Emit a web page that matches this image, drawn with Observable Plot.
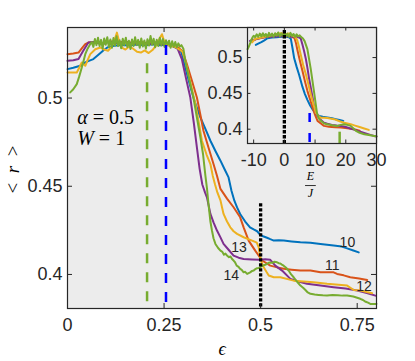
<!DOCTYPE html>
<html><head><meta charset="utf-8">
<script src="https://cdn.jsdelivr.net/npm/d3@7"></script>
<script src="https://cdn.jsdelivr.net/npm/@observablehq/plot@0.6"></script>
<style>
body{margin:0;background:#fff;}
#wrap{position:relative;width:415px;height:361px;}
#wrap svg{position:absolute;left:0;top:0;}
</style></head><body><div id="wrap"></div>
<script>
// ---------- data ----------
const sizes = [10, 11, 12, 13, 14];
const colors = ["#0072BD", "#D95319", "#7E2F8E", "#EDB120", "#77AC30"];
const xTicksMain = [0, 0.25, 0.5, 0.75];
const yTicksMain = [0.4, 0.45, 0.5];
const xTicksInset = [-10, 0, 10, 20, 30];
const yTicksInset = [0.4, 0.45, 0.5];

// main panel: r vs epsilon
const eps10 = [0,0.015,0.033,0.046,0.057,0.067,0.080,0.092,0.103,0.12,0.14,0.16,0.18,0.20,0.22,0.24,0.26,0.28,0.295,0.305,0.315,0.326,0.335,0.344,0.357,0.370,0.383,0.396,0.407,0.417,0.4245,0.432,0.439,0.447,0.460,0.4725,0.482,0.491,0.499,0.508,0.5166,0.525,0.534,0.547,0.560,0.580,0.603,0.629,0.655,0.689,0.710,0.724,0.740,0.754];
const r10 = [0.5164,0.5172,0.5183,0.5202,0.5212,0.5221,0.5245,0.5268,0.5287,0.5296,0.5301,0.5298,0.5303,0.5300,0.5305,0.5299,0.5302,0.5290,0.5260,0.5173,0.5090,0.5003,0.4945,0.4890,0.4825,0.4758,0.4700,0.4645,0.4595,0.4550,0.4475,0.4418,0.4380,0.4343,0.4300,0.4267,0.4255,0.4245,0.4225,0.4215,0.4208,0.4200,0.4192,0.4194,0.4192,0.4187,0.4182,0.4180,0.4173,0.4164,0.4158,0.4148,0.4136,0.4125];

const eps11 = [0,0.015,0.0285,0.038,0.0459,0.055,0.07,0.09,0.11,0.13,0.15,0.17,0.19,0.21,0.23,0.25,0.27,0.285,0.298,0.309,0.322,0.335,0.344,0.352,0.365,0.378,0.387,0.396,0.413,0.430,0.447,0.456,0.469,0.486,0.504,0.525,0.543,0.560,0.580,0.603,0.629,0.655,0.689,0.698,0.715,0.732,0.755,0.776];
const r11 = [0.5249,0.5253,0.5258,0.5285,0.5306,0.5315,0.5318,0.5310,0.5322,0.5315,0.5320,0.5312,0.5318,0.5310,0.5316,0.5308,0.5300,0.5290,0.5265,0.5193,0.5100,0.5003,0.4905,0.4815,0.4720,0.4626,0.4560,0.4485,0.4430,0.4381,0.4324,0.4267,0.4192,0.4135,0.4079,0.4050,0.4040,0.4032,0.4027,0.4022,0.4022,0.4012,0.4012,0.4003,0.3995,0.3984,0.3977,0.3969];

const eps12 = [0,0.015,0.0285,0.040,0.054,0.07,0.09,0.11,0.13,0.15,0.17,0.19,0.21,0.23,0.25,0.27,0.285,0.296,0.307,0.318,0.327,0.335,0.342,0.349,0.356,0.361,0.370,0.378,0.387,0.396,0.404,0.417,0.430,0.443,0.456,0.478,0.499,0.512,0.525,0.538,0.5555,0.577,0.598,0.620,0.655,0.689,0.720,0.750,0.775,0.797];
const r12 = [0.5211,0.5214,0.5221,0.5265,0.5315,0.5318,0.5305,0.5320,0.5310,0.5318,0.5308,0.5315,0.5305,0.5312,0.5302,0.5296,0.5280,0.5221,0.5110,0.5003,0.4860,0.4720,0.4600,0.4510,0.4465,0.4437,0.4343,0.4295,0.4249,0.4210,0.4173,0.4140,0.4107,0.4095,0.4088,0.4085,0.4083,0.4086,0.4083,0.4050,0.4022,0.3975,0.3960,0.3947,0.3938,0.3928,0.3920,0.3909,0.3895,0.3880];

const eps13 = [0,0.012,0.024,0.031,0.037,0.046,0.052,0.059,0.072,0.085,0.095,0.105,0.114,0.122,0.128,0.134,0.142,0.150,0.160,0.170,0.180,0.190,0.200,0.210,0.220,0.230,0.238,0.2446,0.250,0.260,0.270,0.280,0.290,0.298,0.305,0.318,0.331,0.340,0.348,0.360,0.370,0.376,0.382,0.388,0.396,0.404,0.413,0.4215,0.430,0.439,0.456,0.478,0.490,0.495,0.499,0.504,0.508,0.515,0.521,0.534,0.551,0.5855,0.637,0.672,0.724,0.741,0.758,0.775,0.789];
const r13 = [0.5145,0.5145,0.5145,0.5175,0.5202,0.5183,0.5215,0.5249,0.5277,0.5287,0.5275,0.5268,0.5290,0.5330,0.5371,0.5318,0.5285,0.5275,0.5292,0.5280,0.5262,0.5258,0.5270,0.5255,0.5272,0.5300,0.5335,0.5362,0.5325,0.5300,0.5295,0.5288,0.5275,0.5262,0.5211,0.5090,0.4966,0.4860,0.4758,0.4680,0.4626,0.4560,0.4510,0.4465,0.4420,0.4343,0.4300,0.4267,0.4245,0.4230,0.4211,0.4192,0.4180,0.4154,0.4097,0.4060,0.4041,0.4015,0.3994,0.3984,0.3984,0.3965,0.3956,0.3947,0.3937,0.3912,0.3909,0.3900,0.3894];

const eps14 = [0.007,0.015,0.024,0.030,0.037,0.042,0.046,0.052,0.059,0.063,0.067,0.071,0.075,0.079,0.083,0.087,0.091,0.095,0.099,0.103,0.107,0.111,0.115,0.119,0.123,0.127,0.131,0.135,0.139,0.143,0.147,0.151,0.155,0.159,0.163,0.167,0.171,0.175,0.179,0.183,0.187,0.191,0.195,0.199,0.203,0.207,0.211,0.215,0.219,0.223,0.227,0.231,0.235,0.239,0.243,0.247,0.251,0.255,0.259,0.263,0.267,0.271,0.275,0.279,0.283,0.287,0.291,0.295,0.300,0.305,0.315,0.326,0.335,0.344,0.351,0.357,0.361,0.365,0.370,0.374,0.378,0.383,0.390,0.396,0.401,0.405,0.409,0.413,0.418,0.422,0.426,0.430,0.434,0.438,0.442,0.447,0.451,0.456,0.460,0.465,0.469,0.473,0.478,0.482,0.486,0.490,0.495,0.499,0.504,0.508,0.512,0.5166,0.522,0.530,0.536,0.5425,0.547,0.551,0.555,0.5596,0.566,0.5725,0.579,0.5855,0.594,0.603,0.610,0.616,0.622,0.629,0.640,0.650,0.661,0.672,0.686,0.700,0.712,0.724,0.732,0.740,0.750,0.758,0.765,0.772,0.778,0.784,0.792,0.800];
const r14 = [0.5032,0.5050,0.5079,0.5120,0.5173,0.5215,0.5249,0.5280,0.5306,0.5318,0.5290,0.5335,0.5300,0.5342,0.5295,0.5330,0.5280,0.5338,0.5302,0.5345,0.5290,0.5332,0.5285,0.5340,0.5298,0.5350,0.5295,0.5328,0.5282,0.5336,0.5300,0.5342,0.5290,0.5325,0.5278,0.5332,0.5295,0.5345,0.5300,0.5330,0.5285,0.5338,0.5292,0.5326,0.5280,0.5334,0.5298,0.5352,0.5302,0.5336,0.5288,0.5330,0.5295,0.5342,0.5298,0.5335,0.5290,0.5328,0.5302,0.5325,0.5285,0.5322,0.5290,0.5318,0.5288,0.5310,0.5292,0.5300,0.5280,0.5211,0.5110,0.5003,0.4890,0.4777,0.4680,0.4560,0.4490,0.4400,0.4300,0.4249,0.4205,0.4173,0.4150,0.4135,0.4128,0.4112,0.4118,0.4107,0.4098,0.4102,0.4088,0.4079,0.4068,0.4050,0.4045,0.4032,0.4026,0.4012,0.4015,0.4003,0.4008,0.4012,0.4020,0.4022,0.4030,0.4035,0.4036,0.4041,0.4048,0.4052,0.4055,0.4060,0.4068,0.4066,0.4072,0.4069,0.4064,0.4062,0.4056,0.4050,0.4038,0.4022,0.4000,0.3984,0.3960,0.3937,0.3925,0.3912,0.3898,0.3890,0.3886,0.3884,0.3882,0.3881,0.3883,0.3882,0.3880,0.3881,0.3878,0.3875,0.3868,0.3862,0.3855,0.3845,0.3840,0.3833,0.3832,0.3833];

// critical energies (main panel)
const critEps = [0.206, 0.255, 0.5];
const critTop = [0.5194, 0.5298, 0.4401];

// inset: r vs E/J
const eI10 = [-9.3,-8.5,-7.5,-6.5,-5.5,-4,-2.5,-1,0.5,1.5,2.1,2.7,3.2,4.0,4.8,5.9,6.7,7.5,8.4,9.2,10.3,11.3,12.5,14,15.5,16.7,18,19.2];
const rI10 = [0.5177,0.5195,0.5215,0.5240,0.5270,0.5280,0.5285,0.5290,0.5295,0.5285,0.5265,0.5120,0.4990,0.4870,0.4760,0.4590,0.4490,0.4410,0.4330,0.4275,0.4210,0.4186,0.4175,0.4165,0.4152,0.4140,0.4128,0.4116];
const eI11 = [-10,-9,-8,-6.5,-5,-3.5,-2,-0.5,1,2.5,3.3,3.8,4.3,5.1,5.9,6.7,7.5,8.4,9.2,10,10.8,11.9,12.9,14.5,16.5,18.4,20.5,22.7,24.5];
const rI11 = [0.5240,0.5260,0.5270,0.5285,0.5290,0.5305,0.5310,0.5300,0.5305,0.5290,0.5270,0.5200,0.5094,0.4950,0.4814,0.4670,0.4535,0.4410,0.4300,0.4200,0.4116,0.4080,0.4046,0.4035,0.4028,0.4022,0.4012,0.4000,0.3980];
const eI12 = [-11.2,-10.5,-10,-8.5,-7,-5,-3,-1,1,3,4.5,5.3,5.9,6.4,7.0,7.5,8.0,8.6,9.2,9.7,10.3,10.8,11.8,12.9,14,15.5,17,18.4,20,21.5,23,23.8,25,26.5,28,29.2,30];
const rI12 = [0.5233,0.5245,0.5250,0.5265,0.5280,0.5290,0.5295,0.5300,0.5298,0.5292,0.5285,0.5270,0.5180,0.5094,0.4980,0.4860,0.4720,0.4580,0.4440,0.4300,0.4220,0.4186,0.4130,0.4090,0.4075,0.4060,0.4050,0.4046,0.4030,0.4010,0.3990,0.3976,0.3960,0.3940,0.3920,0.3906,0.3898];
const eI13 = [-10.5,-10,-9.5,-8.5,-7,-5.5,-4,-2.5,-1,0.5,1.5,2.5,3.5,4.2,4.6,5.3,6.1,7,7.8,8.6,9.4,10.2,11,11.9,13,14,16.2,18,19.5,21.6,23,24.5,26,27.5];
const rI13 = [0.5210,0.5240,0.5260,0.5270,0.5285,0.5300,0.5310,0.5330,0.5340,0.5325,0.5335,0.5310,0.5290,0.5240,0.5180,0.5047,0.4900,0.4768,0.4630,0.4489,0.4360,0.4232,0.4185,0.4160,0.4158,0.4155,0.4140,0.4110,0.4090,0.4070,0.4050,0.4030,0.4010,0.3990];
const eI14 = [-12,-11.6,-11.2,-10.8,-10.4,-10,-9.5,-9,-8.5,-8,-7.5,-7,-6.5,-6,-5.5,-5,-4.5,-4,-3.5,-3,-2.5,-2,-1.5,-1,-0.5,0,0.5,1,1.5,2,2.5,3,3.5,4,4.5,5,5.5,6,6.6,7.5,8.6,9.7,10.6,11.2,11.9,13,14,15.5,17.3,18.3,19.4,20.5,21.6,22.5,23.3,24.5,26,27.5,29.2,30];
const rI14 = [0.5117,0.5150,0.5190,0.5240,0.5280,0.5305,0.5285,0.5325,0.5290,0.5335,0.5295,0.5340,0.5300,0.5330,0.5285,0.5345,0.5300,0.5335,0.5290,0.5340,0.5305,0.5350,0.5295,0.5338,0.5300,0.5342,0.5295,0.5335,0.5290,0.5345,0.5300,0.5330,0.5288,0.5325,0.5295,0.5310,0.5285,0.5270,0.5230,0.5117,0.4838,0.4511,0.4232,0.4150,0.4116,0.4080,0.4070,0.4055,0.4046,0.4060,0.4070,0.4060,0.4046,0.4010,0.3976,0.3950,0.3930,0.3920,0.3906,0.3900];

// critical energies (inset)
const critE = [0, 8.23, 18];
const critETop = [0.5377, 0.4219, 0.3958];

// curve labels
const labelText = ["10", "11", "12", "13", "14"];
const labelEps = [0.7246, 0.6857, 0.7676, 0.4438, 0.4241];
const labelR = [0.4182, 0.4050, 0.3931, 0.4151, 0.3994];

// ---------- build tables ----------
const toRows = (L, xs, ys) => xs.map((x, i) => ({L, x, y: ys[i]}));
const mainRows = [
  ...toRows(10, eps10, r10), ...toRows(11, eps11, r11), ...toRows(12, eps12, r12),
  ...toRows(13, eps13, r13), ...toRows(14, eps14, r14)];
const insetRows = [
  ...toRows(10, eI10, rI10), ...toRows(11, eI11, rI11), ...toRows(12, eI12, rI12),
  ...toRows(13, eI13, rI13), ...toRows(14, eI14, rI14)];
const labels = labelText.map((t, i) => ({t, x: labelEps[i], y: labelR[i]}));

const INK = "#262626", BG = "#ececec";
const fmt = d => String(d);
const baseStyle = {fontFamily: "'Liberation Sans', Arial, sans-serif", fontSize: "18px", color: INK, background: "transparent", overflow: "visible"};
const serif = "'Liberation Serif', 'DejaVu Serif', serif";

// ---------- main panel ----------
const mW = 415 - 67 - 39, mH = 361 - 27 - 53, tk = 5;
const main = Plot.plot({
  width: 415, height: 361,
  marginLeft: 67, marginRight: 39, marginTop: 27, marginBottom: 53,
  style: baseStyle,
  x: {domain: [0, 0.8]},
  y: {domain: [0.3807, 0.540]},
  color: {type: "ordinal", domain: sizes, range: colors},
  marks: [
    Plot.frame({fill: BG}),
    Plot.line(mainRows, {x: "x", y: "y", z: "L", stroke: "L", strokeWidth: 2}),
    Plot.ruleX([0], {x: () => critEps[0], y1: () => critTop[0], y2: 0.3807, stroke: "#77AC30", strokeWidth: 2.5, strokeDasharray: "10,9"}),
    Plot.ruleX([0], {x: () => critEps[1], y1: () => critTop[1], y2: 0.3807, stroke: "#0000FF", strokeWidth: 2.5, strokeDasharray: "10,9"}),
    Plot.ruleX([0], {x: () => critEps[2], y1: () => critTop[2], y2: 0.3807, stroke: "#000", strokeWidth: 3.3, strokeDasharray: "3.3,1.7"}),
    Plot.ruleX(xTicksMain.slice(1), {x: d => d, insetTop: mH - tk, stroke: INK}),
    Plot.ruleX(xTicksMain.slice(1), {x: d => d, insetBottom: mH - tk, stroke: INK}),
    Plot.ruleY(yTicksMain, {y: d => d, insetRight: mW - tk, stroke: INK}),
    Plot.ruleY(yTicksMain, {y: d => d, insetLeft: mW - tk, stroke: INK}),
    Plot.frame({stroke: INK, strokeWidth: 1.2}),
    Plot.axisX({ticks: xTicksMain, tickSize: 0, tickPadding: 10, tickFormat: fmt, label: null}),
    Plot.axisY({ticks: yTicksMain, tickSize: 0, tickPadding: 5, tickFormat: fmt, label: null}),
    Plot.text(labels, {x: "x", y: "y", text: "t", fontSize: 14, fill: INK}),
    Plot.text(["α = 0.5"], {x: 0.0251, y: 0.4888, text: d => d, textAnchor: "start", fontFamily: serif, fontSize: 20, fill: "#000"}),
    Plot.text(["W = 1"], {x: 0.0251, y: 0.4772, text: d => d, textAnchor: "start", fontFamily: serif, fontSize: 20, fill: "#000"}),
    Plot.text(["ϵ"], {x: 0.4005, y: 0.3575, text: d => d, fontFamily: serif, fontStyle: "italic", fontSize: 18, fill: "#000"}),
    Plot.text(["<\u2002r\u2002>"], {x: -0.1411, y: 0.4595, text: d => d, rotate: -90, fontFamily: serif, fontSize: 19, fill: "#000"})
  ]
});

// ---------- inset ----------
const iW = 415 - 247 - 39, iH = 361 - 27 - 218, itk = 3.5;
const inset = Plot.plot({
  width: 415, height: 361,
  marginLeft: 247, marginRight: 39, marginTop: 27, marginBottom: 218,
  style: baseStyle,
  x: {domain: [-12, 30]},
  y: {domain: [0.38, 0.542]},
  color: {type: "ordinal", domain: sizes, range: colors},
  marks: [
    Plot.frame({fill: BG}),
    Plot.line(insetRows, {x: "x", y: "y", z: "L", stroke: "L", strokeWidth: 2}),
    Plot.ruleX([0], {x: () => critE[0], y1: () => critETop[0], y2: 0.38, stroke: "#000", strokeWidth: 3.3, strokeDasharray: "3.3,1.7"}),
    Plot.ruleX([0], {x: () => critE[1], y1: () => critETop[1], y2: 0.38, stroke: "#0000FF", strokeWidth: 2.5, strokeDasharray: "9,11"}),
    Plot.ruleX([0], {x: () => critE[2], y1: () => critETop[2], y2: 0.38, stroke: "#77AC30", strokeWidth: 2.5}),
    Plot.ruleX(xTicksInset, {x: d => d, insetTop: iH - itk, stroke: INK}),
    Plot.ruleX(xTicksInset, {x: d => d, insetBottom: iH - itk, stroke: INK}),
    Plot.ruleY(yTicksInset, {y: d => d, insetRight: iW - itk, stroke: INK}),
    Plot.ruleY(yTicksInset, {y: d => d, insetLeft: iW - itk, stroke: INK}),
    Plot.frame({stroke: INK, strokeWidth: 1.2}),
    Plot.axisX({ticks: xTicksInset, tickSize: 0, tickPadding: 10, tickFormat: fmt, label: null}),
    Plot.axisY({ticks: yTicksInset, tickSize: 0, tickPadding: 5, tickFormat: fmt, label: null}),
    Plot.text(["E"], {x: 8.5, y: 0.3340, text: d => d, fontFamily: serif, fontStyle: "italic", fontSize: 12, fill: "#000"}),
    Plot.ruleY([0], {y: () => 0.3213, x1: 6.9, x2: 10.4, stroke: "#000", strokeWidth: 0.8}),
    Plot.text(["J"], {x: 8.5, y: 0.3110, text: d => d, fontFamily: serif, fontStyle: "italic", fontSize: 12, fill: "#000"})
  ]
});

// ---------- rich text (italic math symbols) ----------
function rich(svg, plain, parts) {
  d3.select(svg).selectAll("text").filter(function() { return this.textContent === plain; }).each(function() {
    const t = d3.select(this);
    t.text(null);
    for (const [s, it] of parts) t.append("tspan").attr("font-style", it ? "italic" : "normal").text(s);
  });
}
rich(main, "α = 0.5", [["α", true], [" = 0.5", false]]);
rich(main, "W = 1", [["W", true], [" = 1", false]]);
rich(main, "<\u2002r\u2002>", [["<\u2002", false], ["r", true], ["\u2002>", false]]);

const wrap = document.getElementById("wrap");
wrap.appendChild(main);
wrap.appendChild(inset);
</script></body></html>
